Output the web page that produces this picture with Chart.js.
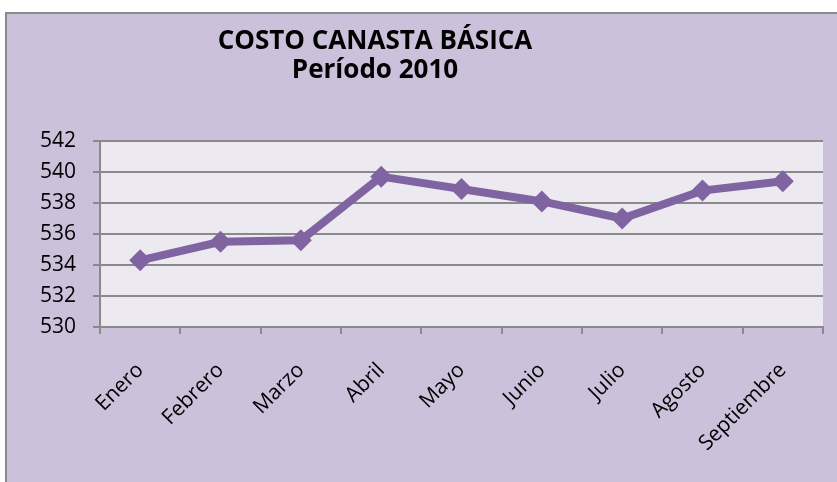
<!DOCTYPE html>
<html>
<head>
<meta charset="utf-8">
<script src="https://cdn.jsdelivr.net/npm/chart.js@4/dist/chart.umd.min.js"></script>
<style>
  html, body { margin: 0; padding: 0; background: #fff; }
  #wrap { position: relative; width: 837px; height: 482px; }
</style>
</head>
<body>
<div id="wrap"><canvas id="lineChart" width="837" height="482"></canvas></div>
<script>
const MESES = ['Enero', 'Febrero', 'Marzo', 'Abril', 'Mayo', 'Junio', 'Julio', 'Agosto', 'Septiembre'];
const COSTO = [534.3, 535.5, 535.6, 539.7, 538.9, 538.1, 537.0, 538.8, 539.4];
const Y_MIN = 530;
const Y_MAX = 542;
const Y_STEP = 2;
const TITULO = ['COSTO CANASTA BÁSICA', 'Período 2010'];

const FONT = '"Open Sans", sans-serif';

// lavender frame, plot area fill and the two-line heading
const fondo = {
  id: 'fondo',
  beforeDraw(chart) {
    const c = chart.ctx;
    const a = chart.chartArea;
    c.save();
    c.fillStyle = '#cbc1da';
    c.fillRect(5, 12, chart.width - 5, chart.height - 12);
    c.strokeStyle = '#8a8a8a';
    c.lineWidth = 2;
    c.beginPath();
    c.moveTo(6, chart.height);
    c.lineTo(6, 13);
    c.lineTo(chart.width, 13);
    c.stroke();
    c.fillStyle = '#ece9f0';
    c.fillRect(a.left, a.top, a.right - a.left, a.bottom - a.top);
    c.restore();
  },
  afterDraw(chart) {
    const c = chart.ctx;
    c.save();
    c.fillStyle = '#000';
    c.font = 'bold 26px ' + FONT;
    c.textAlign = 'center';
    c.textBaseline = 'alphabetic';
    c.fillText(TITULO[0], 375, 49);
    c.fillText(TITULO[1], 375, 78);
    c.restore();
  }
};

function dibujar() {
  new Chart(document.getElementById('lineChart').getContext('2d'), {
    type: 'line',
    data: {
      labels: MESES,
      datasets: [{
        label: 'Costo',
        data: COSTO,
        borderColor: '#8064a2',
        backgroundColor: '#8064a2',
        borderWidth: 8,
        tension: 0,
        pointStyle: 'rectRot',
        pointRadius: 11,
        pointHoverRadius: 11,
        pointBorderWidth: 0
      }]
    },
    options: {
      responsive: false,
      animation: false,
      layout: { padding: { left: 20, right: 14, top: 141, bottom: 0 } },
      plugins: {
        legend: { display: false },
        title: { display: false },
        tooltip: { enabled: false }
      },
      scales: {
        x: {
          offset: true,
          afterFit(s) { s.height = 155; },
          grid: {
            offset: true,
            drawOnChartArea: false,
            drawTicks: true,
            tickLength: 7,
            color: '#8a8a8a',
            lineWidth: 2
          },
          border: { color: '#8a8a8a', width: 2 },
          ticks: {
            minRotation: 45,
            maxRotation: 45,
            padding: 24,
            color: '#000',
            font: { family: FONT, size: 21 }
          }
        },
        y: {
          min: Y_MIN,
          max: Y_MAX,
          afterFit(s) { s.width = 80; },
          grid: {
            color: '#8a8a8a',
            lineWidth: 2,
            tickLength: 7
          },
          border: { color: '#8a8a8a', width: 2 },
          ticks: {
            stepSize: Y_STEP,
            padding: 17,
            color: '#000',
            font: { family: FONT, size: 21 }
          }
        }
      }
    },
    plugins: [fondo]
  });
}

Promise.all([
  document.fonts.load('21px "Open Sans"'),
  document.fonts.load('bold 26px "Open Sans"')
]).then(dibujar, dibujar);
</script>
</body>
</html>
